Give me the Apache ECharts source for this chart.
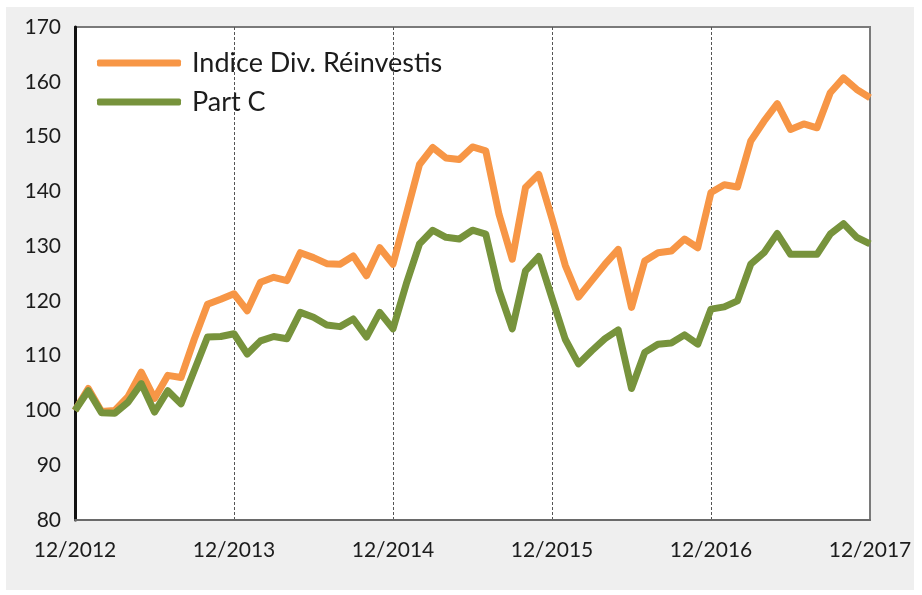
<!DOCTYPE html>
<html>
<head>
<meta charset="utf-8">
<script src="https://cdn.jsdelivr.net/npm/echarts@6/dist/echarts.min.js"></script>
<style>
html,body{margin:0;padding:0;background:#fff;}
#chart{width:922px;height:595px;}
</style>
</head>
<body>
<div id="chart"></div>
<script>
var categories = [
"12/2012","01/2013","02/2013","03/2013","04/2013","05/2013","06/2013","07/2013","08/2013","09/2013","10/2013","11/2013",
"12/2013","01/2014","02/2014","03/2014","04/2014","05/2014","06/2014","07/2014","08/2014","09/2014","10/2014","11/2014",
"12/2014","01/2015","02/2015","03/2015","04/2015","05/2015","06/2015","07/2015","08/2015","09/2015","10/2015","11/2015",
"12/2015","01/2016","02/2016","03/2016","04/2016","05/2016","06/2016","07/2016","08/2016","09/2016","10/2016","11/2016",
"12/2016","01/2017","02/2017","03/2017","04/2017","05/2017","06/2017","07/2017","08/2017","09/2017","10/2017","11/2017",
"12/2017"
];
var indiceName = "Indice Div. Réinvestis";
var partName = "Part C";
var indiceValues = [
100,104,99.8,100,102.5,107,102.2,106.4,106,113,119.4,120.3,
121.3,118.2,123.4,124.3,123.7,128.8,127.9,126.8,126.7,128.2,124.6,129.7,
126.7,135.8,144.9,148,146.1,145.8,148.1,147.4,135.8,127.6,140.7,143.1,
135,126.5,120.7,123.7,126.7,129.4,118.8,127.3,128.8,129.1,131.3,129.7,
139.8,141.2,140.8,149.2,152.8,156,151.3,152.3,151.6,158,160.7,158.6,
157.1
];
var partValues = [
100,103.6,99.6,99.5,101.5,104.9,99.7,103.6,101.2,107.3,113.4,113.5,
114,110.3,112.7,113.5,113.1,117.9,117,115.6,115.3,116.7,113.4,117.9,
114.9,123.1,130.4,132.9,131.6,131.3,132.9,132.2,121.9,114.9,125.5,128.1,
120.5,113,108.5,110.9,113.1,114.7,104,110.6,112.1,112.3,113.8,112.1,
118.5,118.9,120,126.7,128.8,132.3,128.5,128.5,128.5,132.2,134.1,131.6,
130.4
];
var yMin = 80, yMax = 170, yStep = 10;

var chart = echarts.init(document.getElementById('chart'), null, {renderer:'canvas'});
var font = 'Lato, "Open Sans", sans-serif';
chart.setOption({
  backgroundColor: '#ffffff',
  animation: false,
  graphic: [{
    type: 'rect', z: -10, silent: true,
    shape: {x: 6, y: 7, width: 908, height: 583},
    style: {fill: '#efefef'}
  }],
  grid: {
    left: 75, top: 27, right: 52, bottom: 75,
    show: true, backgroundColor: '#ffffff',
    borderColor: '#7a7a7a', borderWidth: 2
  },
  legend: {
    orient: 'vertical',
    left: 92, top: 44,
    itemWidth: 84, itemHeight: 7,
    itemGap: 11,
    icon: 'roundRect',
    textStyle: {fontFamily: font, fontSize: 27, color: '#1c1c1c', lineHeight: 28, padding: [0,0,0,6]},
    data: [indiceName, partName]
  },
  xAxis: {
    type: 'category',
    data: categories,
    boundaryGap: false,
    axisLine: {show: true, lineStyle: {color: '#6a6a6a', width: 2}},
    axisTick: {show: false},
    axisLabel: {
      interval: function(i){ return i % 12 === 0; },
      fontFamily: font, fontSize: 21, color: '#1c1c1c', margin: 20
    },
    splitLine: {
      show: true,
      interval: function(i){ return i % 12 === 0 && i > 0 && i < categories.length - 1; },
      lineStyle: {color: '#555', width: 1, type: [3, 2]}
    }
  },
  yAxis: {
    type: 'value',
    min: yMin, max: yMax, interval: yStep,
    axisLine: {show: true, lineStyle: {color: '#111', width: 3}},
    axisTick: {show: false},
    axisLabel: {fontFamily: font, fontSize: 21, color: '#1c1c1c', margin: 14},
    splitLine: {show: false}
  },
  series: [
    {name: indiceName, type: 'line', data: indiceValues, showSymbol: false, symbol: 'none',
     lineStyle: {color: '#F79646', width: 7, join: 'round'}, itemStyle: {color: '#F79646'}},
    {name: partName, type: 'line', data: partValues, showSymbol: false, symbol: 'none',
     lineStyle: {color: '#77933C', width: 7, join: 'round'}, itemStyle: {color: '#77933C'}}
  ]
});
</script>
</body>
</html>
